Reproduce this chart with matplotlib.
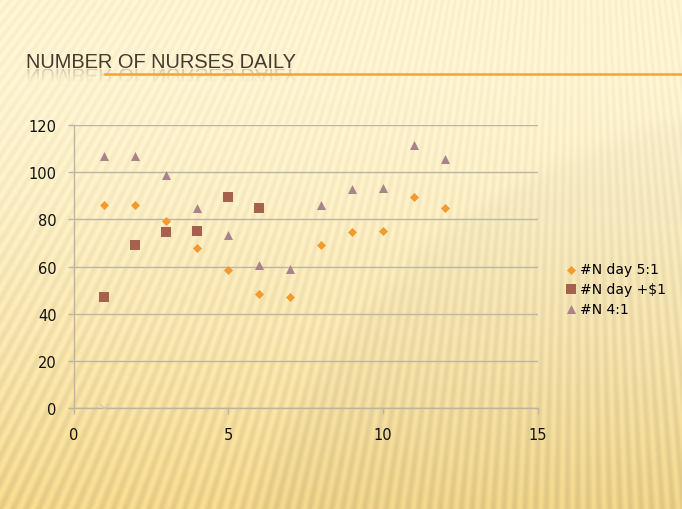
import numpy as np
import matplotlib
matplotlib.use("Agg")
import matplotlib.pyplot as plt
from matplotlib.textpath import TextPath
from matplotlib.font_manager import FontProperties
from matplotlib.patches import PathPatch, Rectangle
from matplotlib.transforms import Affine2D, IdentityTransform

# data
day = [1, 2, 3, 4, 5, 6, 7, 8, 9, 10, 11, 12]
n_day_5to1 = [86, 86, 79.3, 67.8, 58.6, 48.3, 47, 69.2, 74.6, 75, 89.5, 84.7]
day_plus = [1, 2, 3, 4, 5, 6]
n_day_plus1 = [47, 69.2, 74.6, 75, 89.5, 84.7]
n_4to1 = [107, 107, 98.9, 84.7, 73.2, 60.5, 58.8, 86.1, 92.9, 93.3, 111.5, 105.5]
empty_x = [1]
empty_y = [0]

title = "NUMBER OF NURSES DAILY"
W, H = 682, 510

fig = plt.figure(figsize=(W / 100, H / 100), dpi=100)

# slide background: cream gradient with faint sunburst stripes
yy, xx = np.mgrid[0:H, 0:W].astype(float)
t = np.clip((yy - 60) / (H - 60), 0, 1) ** 1.5
top = np.array([253, 243, 208]) / 255
bot = np.array([240, 212, 138]) / 255
base = top + (bot - top) * t[..., None]
# big soft rounded shape on the right
d = np.hypot(xx - 800, yy - 680) - 570
inside = 1 / (1 + np.exp(d / 5))
base = base * (1 - 0.022 * inside)[..., None]
ang = np.arctan2(xx - 580, yy + 700)
stripes = np.sin(ang * 720)
amp = 0.018 + 0.028 * t
img = np.clip(base * (1 + amp * stripes)[..., None], 0, 1)
bg = fig.add_axes([0, 0, 1, 1], zorder=-10)
bg.imshow(img, aspect="auto", extent=[0, W, H, 0])
bg.set_xlim(0, W)
bg.set_ylim(H, 0)
bg.axis("off")

# title
title_font = "Liberation Sans"
title_size = 14.4
fig.text(26 / W, 1 - 68.5 / H, title, fontsize=title_size, family=title_font,
         color="#463a30", ha="left", va="baseline")

# title reflection (decorative mirror image, fading downwards)
fp = FontProperties(family=title_font, size=title_size * 100 / 72)
tp = TextPath((0, 0), title, prop=fp)
mirror = Affine2D().scale(1, -1).translate(26, H - 69.5)
for i in range(6):
    y0 = H - 70 - 2 * (i + 1)
    clip = Rectangle((0, y0), W, 2, transform=IdentityTransform())
    p = PathPatch(tp, transform=mirror, facecolor="#7a6a5a", edgecolor="none",
                  alpha=0.3 * (1 - i / 6))
    fig.add_artist(p)
    p.set_clip_path(clip)

# orange rule under the title
fig.add_artist(plt.Line2D([105 / W, 1], [1 - 74.5 / H] * 2, transform=fig.transFigure,
                          color="#f0a43a", lw=1.8))

# chart
ax = fig.add_axes([73.5 / W, 1 - 409 / H, (537.5 - 73.5) / W, (409 - 126) / H])
ax.set_facecolor("none")
ax.scatter(day, n_day_5to1, marker="D", s=4.6 ** 2, color="#f29b2c", linewidths=0,
           label="#N day 5:1", zorder=3)
ax.scatter(day_plus, n_day_plus1, marker="s", s=6.5 ** 2, color="#a6604e", linewidths=0,
           label="#N day +$1", zorder=3)
ax.scatter(day, n_4to1, marker="^", s=6.5 ** 2, color="#a8838a", linewidths=0,
           label="#N 4:1", zorder=3)
ax.scatter(empty_x, empty_y, marker="x", s=7 ** 2, color="#d9c9a6", linewidths=0.9, zorder=3)

ax.set_xlim(0, 15)
ax.set_ylim(0, 120)
ax.set_xticks([0, 5, 10, 15])
ax.set_yticks(range(0, 121, 20))
ax.grid(axis="y", color="#bdb5a4", lw=1)
ax.set_axisbelow(True)
for side in ["top", "right"]:
    ax.spines[side].set_visible(False)
for side in ["left", "bottom"]:
    ax.spines[side].set_color("#bdb5a4")
    ax.spines[side].set_linewidth(1)
ax.tick_params(axis="both", colors="#bdb5a4", labelcolor="#111111", labelsize=10.5,
               length=4, width=1)
ax.tick_params(axis="y", pad=8)
ax.tick_params(axis="x", pad=10)

leg = ax.legend(loc="center left", bbox_to_anchor=(561 / W, 1 - 290 / H),
                bbox_transform=fig.transFigure, frameon=False, fontsize=10,
                handlelength=0.6, handletextpad=0.35, labelspacing=0.4,
                borderaxespad=0, scatterpoints=1)

plt.savefig("out.png", dpi=100)
